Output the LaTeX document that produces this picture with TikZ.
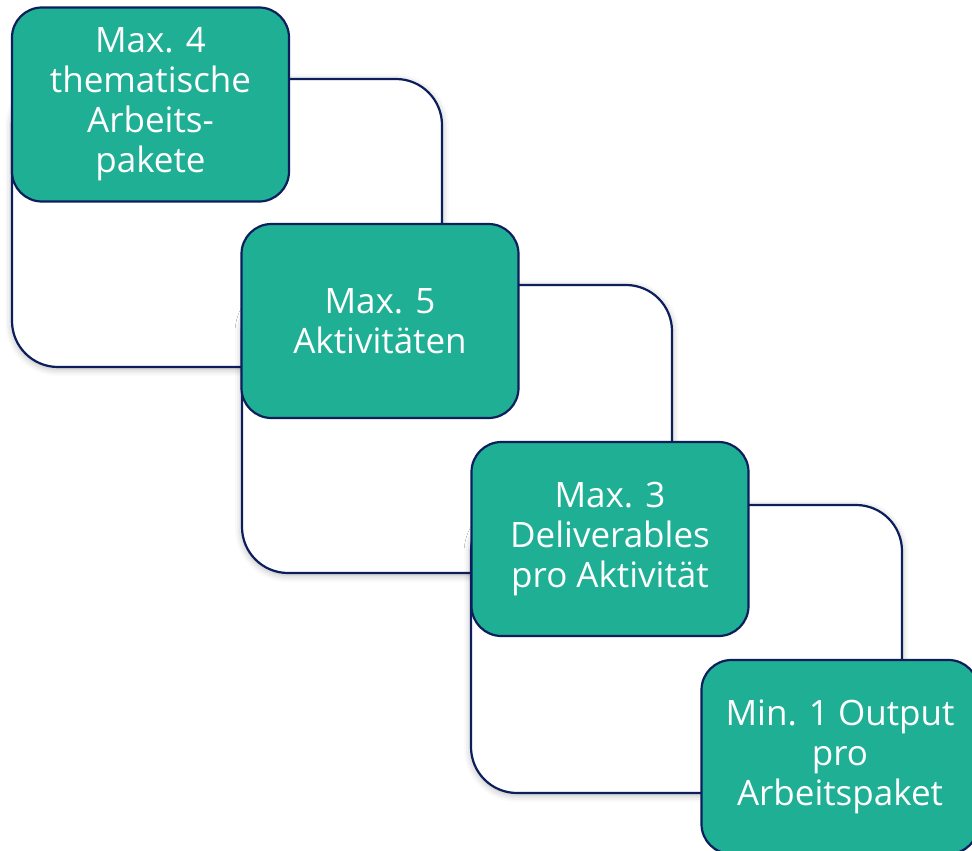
\documentclass[tikz,border=0pt]{standalone}
\usepackage{fontspec}
\setmainfont{Open Sans}
\usetikzlibrary{shadows.blur}
\definecolor{boxgreen}{HTML}{1FAF95}
\definecolor{navy}{HTML}{0C1F5C}
\tikzset{
  backframe/.style={draw=navy, line width=2.2pt, fill=white, rounded corners=46pt,
    blur shadow={shadow xshift=0pt, shadow yshift=-2pt, shadow blur radius=7pt, shadow opacity=30}},
  greenbox/.style={draw=navy, line width=2.2pt, fill=boxgreen, rounded corners=30pt,
    minimum width=277pt, minimum height=194pt, inner sep=0pt, text=white,
    align=center, font=\fontsize{35}{40}\selectfont}
}
\begin{document}
\begin{tikzpicture}[x=1pt,y=-1pt]
\useasboundingbox (0,0) rectangle (972,851);
\clip (0,0) rectangle (972,851);
% back frames
\coordinate (f1a) at (12,79);  \coordinate (f1b) at (442,367);
\coordinate (f2a) at (242,285); \coordinate (f2b) at (672,573);
\coordinate (f3a) at (471,505); \coordinate (f3b) at (902,793);
\path[backframe] (f1a) rectangle (f1b);
\node[greenbox] (b1) at (150.5,104.5) {Max. 4\\thematische\\Arbeits-\\pakete};
\path[backframe] (f2a) rectangle (f2b);
\node[greenbox] (b2) at (380,321) {Max. 5\\Aktivitäten};
\path[backframe] (f3a) rectangle (f3b);
\node[greenbox] (b3) at (610,539) {Max. 3\\Deliverables\\pro Aktivität};
\node[greenbox] (b4) at (840,757) {Min. 1 Output\\pro\\Arbeitspaket};
\end{tikzpicture}
\end{document}
